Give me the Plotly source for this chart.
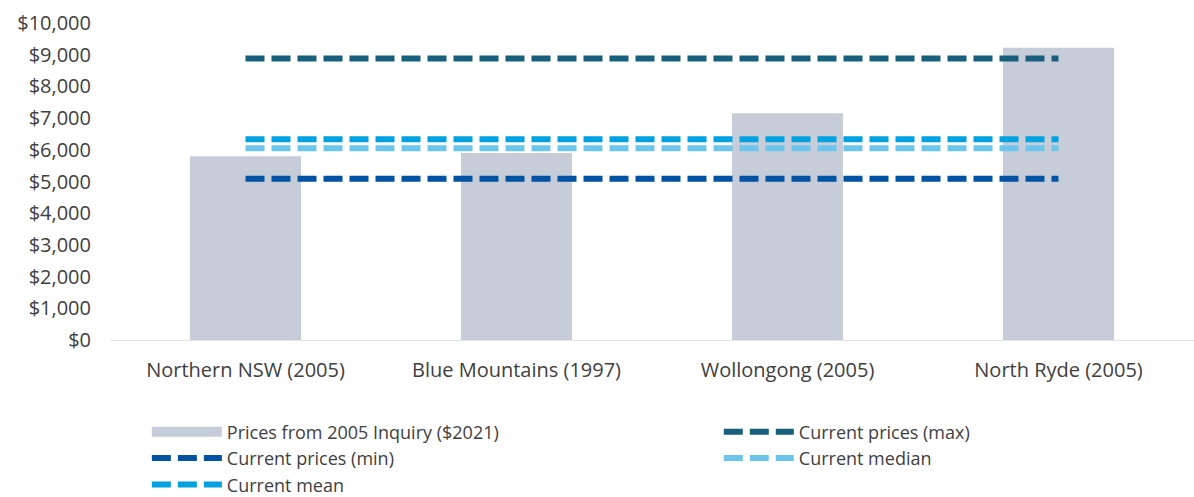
import plotly.graph_objects as go

# Regions and historical prices (2005 Inquiry, in $2021)
regions = ["Northern NSW (2005)", "Blue Mountains (1997)", "Wollongong (2005)", "North Ryde (2005)"]
inquiry_prices = [5800, 5900, 7150, 9220]

# Current price benchmarks, repeated across regions
current_max = 8880
current_min = 5085
current_median = 6050
current_mean = 6330

y_ticks = [0, 1000, 2000, 3000, 4000, 5000, 6000, 7000, 8000, 9000, 10000]
y_tick_labels = ["$0", "$1,000", "$2,000", "$3,000", "$4,000", "$5,000",
                 "$6,000", "$7,000", "$8,000", "$9,000", "$10,000"]

TEXT = "#404040"
FONT = "Open Sans"
BAR_COLOR = "#C6CDD8"
FS_AXIS = 20
FS_LEGEND = 18

fig = go.Figure()

fig.add_trace(go.Bar(
    x=regions, y=inquiry_prices, name="Prices from 2005 Inquiry ($2021)",
    marker=dict(color=BAR_COLOR, line=dict(width=0)), width=0.41,
    showlegend=False,
))
# Wide flat swatch for the bar series in the legend
fig.add_trace(go.Scatter(
    x=[None], y=[None], name="Prices from 2005 Inquiry ($2021)", mode="lines",
    line=dict(color=BAR_COLOR, width=11), legend="legend",
))

# (name, value, colour, legend column)
line_series = [
    ("Current prices (max)", current_max, "#175F7B", "legend2"),
    ("Current prices (min)", current_min, "#0052A2", "legend"),
    ("Current median", current_median, "#6CC6EC", "legend2"),
    ("Current mean", current_mean, "#00A1DE", "legend"),
]
for name, val, color, leg in line_series:
    fig.add_trace(go.Scatter(
        x=regions, y=[val] * len(regions), name=name, mode="lines",
        line=dict(color=color, width=6, dash="19px,7px"), legend=leg,
    ))

legend_common = dict(
    orientation="v", xref="container", yref="container",
    y=0.168, xanchor="left", yanchor="top",
    font=dict(family=FONT, size=FS_LEGEND, color=TEXT),
    traceorder="normal", itemwidth=70, bgcolor="rgba(0,0,0,0)",
)

fig.update_layout(
    width=1194, height=497,
    margin=dict(l=110, r=0, t=23, b=157, autoexpand=False),
    paper_bgcolor="white", plot_bgcolor="white",
    font=dict(family=FONT, size=FS_AXIS, color=TEXT),
    showlegend=True,
    legend=dict(x=0.123, **legend_common),
    legend2=dict(x=0.602, **legend_common),
)

fig.update_xaxes(
    range=[-0.5, 3.5], showgrid=False, showline=True, linecolor="#E4E4E4",
    linewidth=1, ticks="", ticklabelstandoff=12, tickangle=0,
    tickfont=dict(family=FONT, size=FS_AXIS, color=TEXT),
)
fig.update_yaxes(
    range=[0, 10000], tickvals=y_ticks, ticktext=y_tick_labels,
    showgrid=False, zeroline=False, showline=False, ticks="",
    ticklabelstandoff=18,
    tickfont=dict(family=FONT, size=FS_AXIS, color=TEXT),
)

fig.write_html("out.html")
